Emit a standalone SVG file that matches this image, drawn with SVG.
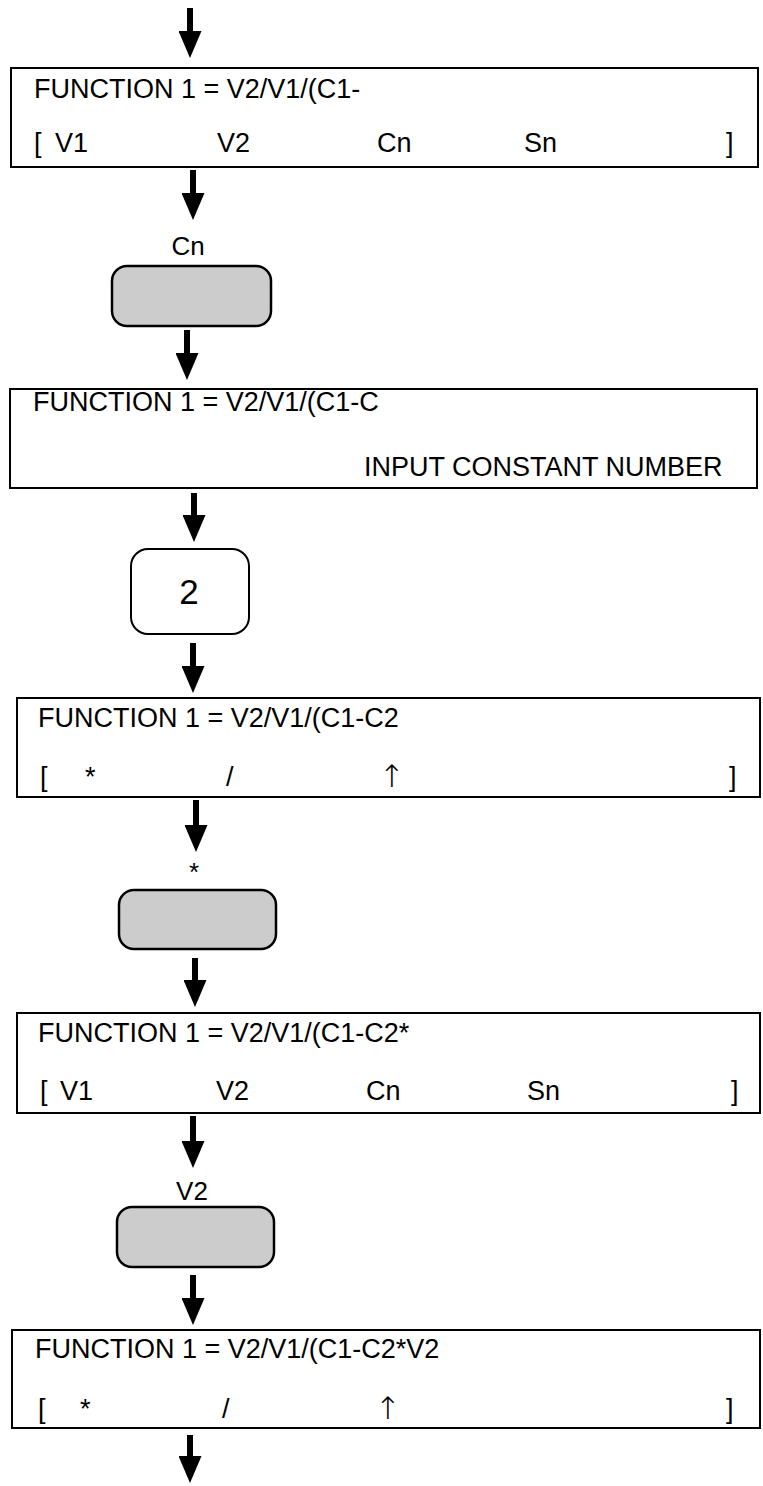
<svg xmlns="http://www.w3.org/2000/svg" width="763" height="1486" viewBox="0 0 763 1486">
<style>
.screen{fill:#ffffff;stroke:#000000;stroke-width:2}
.key{fill:#cccccc;stroke:#000000;stroke-width:2.5}
.keyw{fill:#ffffff;stroke:#000000;stroke-width:2}
.t{font-family:"Liberation Sans",Arial,sans-serif;font-size:27px;fill:#000000}
.up{font-family:"DejaVu Sans",sans-serif;font-size:31px;font-weight:200;fill:#000000}
.lbl{font-family:"Liberation Sans",Arial,sans-serif;font-size:26px;fill:#000000;text-anchor:middle}
.big{font-family:"Liberation Sans",Arial,sans-serif;font-size:35px;fill:#000000;text-anchor:middle}
.conn{stroke:#000000;stroke-width:6;fill:none;marker-end:url(#ah)}
</style>
<defs>
<marker id="ah" viewBox="0 0 27 23" markerWidth="27" markerHeight="23" refX="7" refY="11.5" orient="auto" markerUnits="userSpaceOnUse">
<path d="M0,0 L27,11.5 L0,23 z" fill="#000000"/>
</marker>
</defs>
<rect width="763" height="1486" fill="#ffffff"/>
<g id="connectors">
<line class="conn" x1="190" y1="8" x2="190" y2="38"/>
<line class="conn" x1="193" y1="170" x2="193" y2="200"/>
<line class="conn" x1="187" y1="330" x2="187" y2="360"/>
<line class="conn" x1="194" y1="493" x2="194" y2="522"/>
<line class="conn" x1="193" y1="643" x2="193" y2="673"/>
<line class="conn" x1="196" y1="800" x2="196" y2="832"/>
<line class="conn" x1="195" y1="958" x2="195" y2="987"/>
<line class="conn" x1="193" y1="1116" x2="193" y2="1148"/>
<line class="conn" x1="193" y1="1275" x2="193" y2="1305"/>
<line class="conn" x1="190" y1="1435" x2="190" y2="1463"/>
</g>
<g id="screen1">
<rect class="screen" x="11" y="68" width="747" height="99"/>
<text class="t" x="34" y="98">FUNCTION 1 = V2/V1/(C1-</text>
<text class="t" x="34" y="152">[</text>
<text class="t" x="55" y="152">V1</text>
<text class="t" x="217" y="152">V2</text>
<text class="t" x="377" y="152">Cn</text>
<text class="t" x="524" y="152">Sn</text>
<text class="t" x="726" y="152">]</text>
</g>
<g id="key-cn">
<text class="lbl" x="188" y="255">Cn</text>
<rect class="key" x="112" y="266" width="159" height="60" rx="15" ry="15"/>
</g>
<g id="screen2">
<rect class="screen" x="10" y="389" width="747" height="99"/>
<text class="t" x="33" y="411">FUNCTION 1 = V2/V1/(C1-C</text>
<text class="t" x="364" y="476">INPUT CONSTANT NUMBER</text>
</g>
<g id="key-2">
<rect class="keyw" x="131" y="549" width="118" height="85" rx="17" ry="17"/>
<text class="big" x="189" y="604">2</text>
</g>
<g id="screen3">
<rect class="screen" x="17" y="698" width="743" height="99"/>
<text class="t" x="38" y="727">FUNCTION 1 = V2/V1/(C1-C2</text>
<text class="t" x="40" y="786">[</text>
<text class="t" x="85" y="786">*</text>
<text class="t" x="226" y="786">/</text>
<text class="up" x="379" y="787">↑</text>
<text class="t" x="729" y="786">]</text>
</g>
<g id="key-star">
<text class="lbl" x="194" y="881">*</text>
<rect class="key" x="119" y="890" width="157" height="59" rx="15" ry="15"/>
</g>
<g id="screen4">
<rect class="screen" x="17" y="1013" width="743" height="100"/>
<text class="t" x="38" y="1042">FUNCTION 1 = V2/V1/(C1-C2*</text>
<text class="t" x="40" y="1100">[</text>
<text class="t" x="60" y="1100">V1</text>
<text class="t" x="216" y="1100">V2</text>
<text class="t" x="366" y="1100">Cn</text>
<text class="t" x="527" y="1100">Sn</text>
<text class="t" x="731" y="1100">]</text>
</g>
<g id="key-v2">
<text class="lbl" x="192" y="1200">V2</text>
<rect class="key" x="117" y="1207" width="157" height="60" rx="15" ry="15"/>
</g>
<g id="screen5">
<rect class="screen" x="12" y="1330" width="748" height="98"/>
<text class="t" x="35" y="1358">FUNCTION 1 = V2/V1/(C1-C2*V2</text>
<text class="t" x="38" y="1418">[</text>
<text class="t" x="80" y="1418">*</text>
<text class="t" x="222" y="1418">/</text>
<text class="up" x="375" y="1419">↑</text>
<text class="t" x="726" y="1418">]</text>
</g>
</svg>
